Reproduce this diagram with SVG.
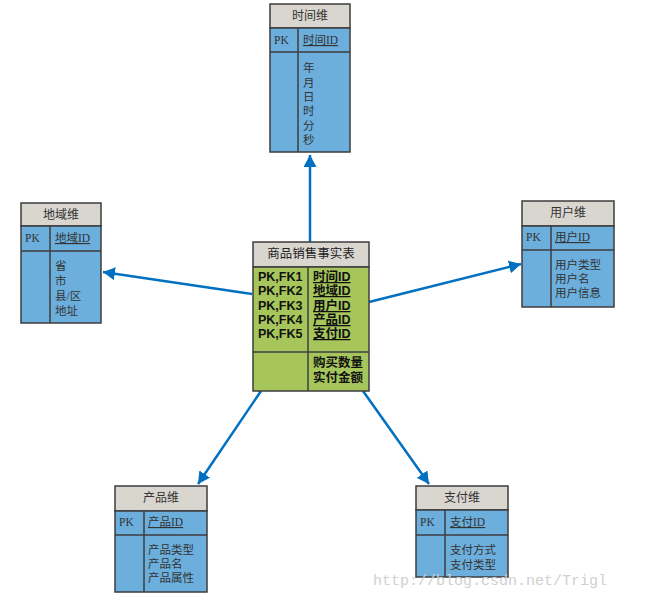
<svg xmlns="http://www.w3.org/2000/svg" width="662" height="599" viewBox="0 0 662 599">
<style>
.hd{fill:#D9D6D0;stroke:#3C3C3C;stroke-width:1.5}
.bd{fill:#6CAFDD;stroke:#3C3C3C;stroke-width:1.5}
.gr{fill:#A6C65B;stroke:#3C3C3C;stroke-width:1.5}
.ln{stroke:#3C3C3C;stroke-width:1.5;fill:none}
.t{font-family:"Liberation Serif","Noto Sans CJK SC",serif;font-size:11.5px;fill:#333}
.tt{font-family:"Liberation Serif","Noto Sans CJK SC",serif;font-size:12px;fill:#333;text-anchor:middle}
.ft{font-family:"Liberation Sans","Noto Sans CJK SC",sans-serif;font-size:12.5px;font-weight:bold;fill:#111}
.fh{font-family:"Liberation Sans","Noto Sans CJK SC",sans-serif;font-size:12.5px;fill:#222;text-anchor:middle}
.u{text-decoration:underline}
.c{stroke:#0070C0;stroke-width:2.5;fill:none;marker-end:url(#ah)}
.wm{font-family:"Liberation Mono",monospace;font-size:15px;fill:#d0d0d0}
</style>
<defs>
<marker id="ah" markerUnits="userSpaceOnUse" markerWidth="13" markerHeight="13" refX="12" refY="6.5" orient="auto">
<path d="M0,0 L12,6.5 L0,13 z" fill="#0070C0"/>
</marker>
</defs>
<g id="connectors">
<line class="c" x1="310" y1="242" x2="310" y2="155"/>
<line class="c" x1="252" y1="294" x2="103" y2="272"/>
<line class="c" x1="369" y1="302" x2="521" y2="264"/>
<line class="c" x1="261" y1="391" x2="198" y2="484"/>
<line class="c" x1="363" y1="391" x2="429" y2="484"/>
</g>
<g id="time">
<rect class="hd" x="270" y="4" width="80" height="24"/>
<rect class="bd" x="270" y="28" width="80" height="124"/>
<line class="ln" x1="270" y1="52" x2="350" y2="52"/>
<line class="ln" x1="298" y1="28" x2="298" y2="152"/>
<text class="tt" x="310" y="20">时间维</text>
<text class="t" x="274" y="44">PK</text>
<text class="t u" x="303" y="44">时间ID</text>
<text class="t" x="303" y="72">年</text>
<text class="t" x="303" y="87">月</text>
<text class="t" x="303" y="101">日</text>
<text class="t" x="303" y="115">时</text>
<text class="t" x="303" y="130">分</text>
<text class="t" x="303" y="144">秒</text>
</g>
<g id="region">
<rect class="hd" x="21" y="203" width="80" height="23"/>
<rect class="bd" x="21" y="226" width="80" height="97"/>
<line class="ln" x1="21" y1="251" x2="101" y2="251"/>
<line class="ln" x1="50" y1="226" x2="50" y2="323"/>
<text class="tt" x="61" y="219">地域维</text>
<text class="t" x="25" y="242">PK</text>
<text class="t u" x="55" y="242">地域ID</text>
<text class="t" x="55" y="270">省</text>
<text class="t" x="55" y="285">市</text>
<text class="t" x="55" y="300">县/区</text>
<text class="t" x="55" y="315">地址</text>
</g>
<g id="fact">
<rect class="hd" x="253" y="242" width="116" height="25"/>
<rect class="gr" x="253" y="267" width="116" height="124"/>
<line class="ln" x1="253" y1="352" x2="369" y2="352"/>
<line class="ln" x1="308" y1="267" x2="308" y2="391"/>
<text class="fh" x="311" y="258">商品销售事实表</text>
<text class="ft" x="258" y="281">PK,FK1</text>
<text class="ft" x="258" y="295">PK,FK2</text>
<text class="ft" x="258" y="310">PK,FK3</text>
<text class="ft" x="258" y="324">PK,FK4</text>
<text class="ft" x="258" y="338">PK,FK5</text>
<text class="ft u" x="313" y="281">时间ID</text>
<text class="ft u" x="313" y="295">地域ID</text>
<text class="ft u" x="313" y="310">用户ID</text>
<text class="ft u" x="313" y="324">产品ID</text>
<text class="ft u" x="313" y="338">支付ID</text>
<text class="ft" x="313" y="367">购买数量</text>
<text class="ft" x="313" y="382">实付金额</text>
</g>
<g id="user">
<rect class="hd" x="522" y="201" width="92" height="25"/>
<rect class="bd" x="522" y="226" width="92" height="81"/>
<line class="ln" x1="522" y1="250" x2="614" y2="250"/>
<line class="ln" x1="551" y1="226" x2="551" y2="307"/>
<text class="tt" x="568" y="217">用户维</text>
<text class="t" x="526" y="241">PK</text>
<text class="t u" x="555" y="241">用户ID</text>
<text class="t" x="555" y="269">用户类型</text>
<text class="t" x="555" y="283">用户名</text>
<text class="t" x="555" y="297">用户信息</text>
</g>
<g id="product">
<rect class="hd" x="115" y="486" width="92" height="25"/>
<rect class="bd" x="115" y="511" width="92" height="81"/>
<line class="ln" x1="115" y1="535" x2="207" y2="535"/>
<line class="ln" x1="144" y1="511" x2="144" y2="592"/>
<text class="tt" x="161" y="502">产品维</text>
<text class="t" x="119" y="526">PK</text>
<text class="t u" x="148" y="526">产品ID</text>
<text class="t" x="148" y="554">产品类型</text>
<text class="t" x="148" y="568">产品名</text>
<text class="t" x="148" y="582">产品属性</text>
</g>
<g id="payment">
<rect class="hd" x="416" y="486" width="92" height="24"/>
<rect class="bd" x="416" y="510" width="92" height="67"/>
<line class="ln" x1="416" y1="535" x2="508" y2="535"/>
<line class="ln" x1="445" y1="510" x2="445" y2="577"/>
<text class="tt" x="462" y="502">支付维</text>
<text class="t" x="420" y="526">PK</text>
<text class="t u" x="450" y="526">支付ID</text>
<text class="t" x="450" y="554">支付方式</text>
<text class="t" x="450" y="569">支付类型</text>
</g>
<text class="wm" x="373" y="585">http://blog.csdn.net/Trigl</text>
</svg>
